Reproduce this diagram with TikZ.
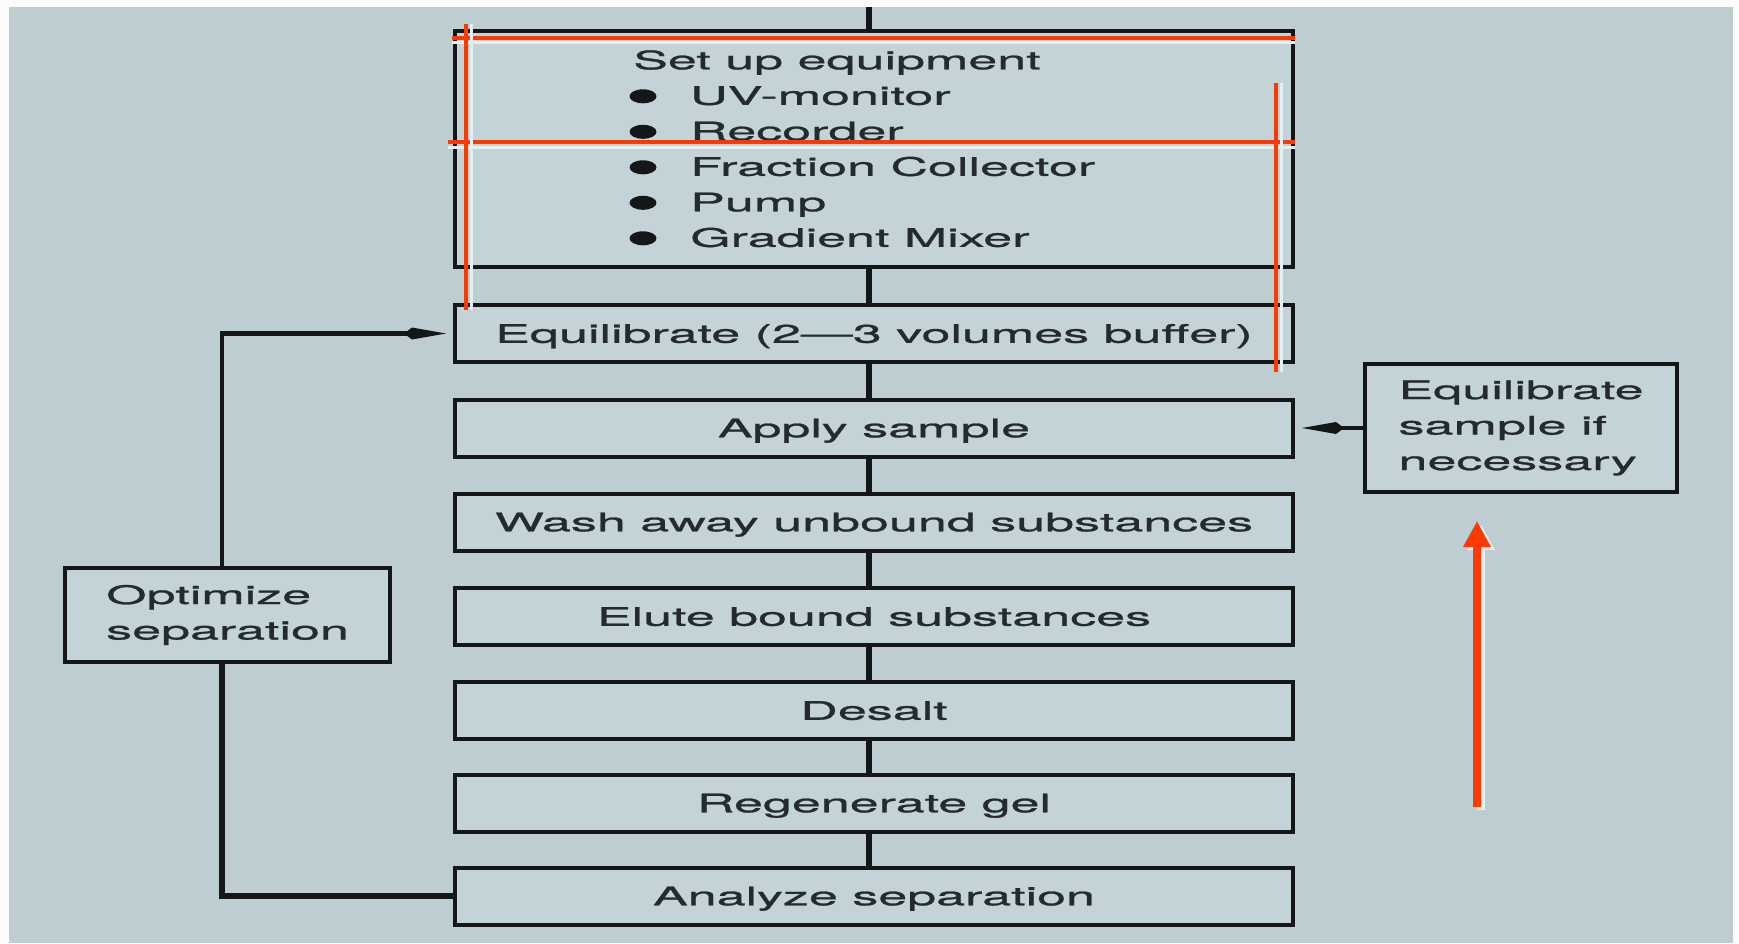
\documentclass[tikz,border=0pt]{standalone}
\usepackage{fontspec}
\setmainfont{TeX Gyre Heros}[FakeStretch=2.04,FakeBold=1.0]
\usetikzlibrary{arrows.meta}
\definecolor{bgcol}{RGB}{189,205,210}
\definecolor{boxfill}{RGB}{196,211,216}
\definecolor{linecol}{RGB}{20,22,24}
\definecolor{txtcol}{RGB}{36,42,46}
\definecolor{annred}{RGB}{255,58,0}
\definecolor{annwhite}{RGB}{226,240,245}
\newcommand{\bodyfont}{\fontsize{25.5pt}{35.5pt}\selectfont}
\tikzset{
  box/.style={draw=linecol, line width=4pt, fill=boxfill, minimum width=838pt,
    minimum height=57pt, inner sep=0pt, text height=18.5pt, text depth=0pt,
    font=\bodyfont, text=txtcol},
  sidebox/.style={draw=linecol, line width=4pt, fill=boxfill, inner sep=0pt,
    align=left, font=\bodyfont, text=txtcol},
  lbl/.style={inner sep=0pt, font=\bodyfont, text=txtcol, anchor=base west},
  conn/.style={draw=linecol, line width=6.5pt},
  loopline/.style={draw=linecol, line width=6pt},
  kitetip/.style={-{Kite[length=42pt,width=12pt,inset=8pt]}},
  annline/.style={draw=annred, line width=4pt},
  annshadow/.style={draw=annwhite, line width=3pt},
}
\begin{document}
\begin{tikzpicture}[x=1pt,y=-1pt]
\useasboundingbox (0,0) rectangle (1739,943);
\fill[white!95!bgcol] (0,0) rectangle (1739,943);
\fill[bgcol] (9,7) rectangle (1733,943);

% main column
\node[box, minimum height=236pt] (setup) at (874,149) {};
\node[box] (equil) at (874,333.5) {Equilibrate (2—3 volumes buffer)};
\node[box] (apply) at (874,428) {Apply sample};
\node[box] (wash) at (874,522) {Wash away unbound substances};
\node[box] (elute) at (874,616.5) {Elute bound substances};
\node[box] (desalt) at (874,710.5) {Desalt};
\node[box] (regen) at (874,803) {Regenerate gel};
\node[box] (analyze) at (874,896) {Analyze separation};

% set-up box contents
\node[lbl] (setuptitle) at (633,69.3) {Set up equipment};
\node[lbl] (uv) at (690,104.8) {UV-monitor};
\node[lbl] (rec) at (690,140.3) {Recorder};
\node[lbl] (frac) at (690,175.8) {Fraction Collector};
\node[lbl] (pump) at (690,211.3) {Pump};
\node[lbl] (grad) at (690,246.8) {Gradient Mixer};
\foreach \yy in {104.8,140.3,175.8,211.3,246.8}
  \fill[linecol] (643,\yy-8.5) ellipse [x radius=13.5pt, y radius=7pt];

% side boxes
\node[sidebox, minimum width=325pt, minimum height=94pt] (optimize) at (227.5,615)
  {Optimize\\separation};
\node[sidebox, minimum width=312pt, minimum height=128pt] (eqs) at (1521,428)
  {Equilibrate\\sample if\\necessary};

% spine connectors
\coordinate (spine) at (869,0);
\coordinate (topend) at (869,7);
\draw[conn] (topend) -- (setup.north -| spine);
\draw[conn] (setup.south -| spine) -- (equil.north -| spine);
\draw[conn] (equil.south -| spine) -- (apply.north -| spine);
\draw[conn] (apply.south -| spine) -- (wash.north -| spine);
\draw[conn] (wash.south -| spine) -- (elute.north -| spine);
\draw[conn] (elute.south -| spine) -- (desalt.north -| spine);
\draw[conn] (desalt.south -| spine) -- (regen.north -| spine);
\draw[conn] (regen.south -| spine) -- (analyze.north -| spine);

% feedback loop
\coordinate (loopx) at (222,0);
\draw[loopline] (analyze.west) -- (analyze.west -| loopx) -- (optimize.south -| loopx);
\draw[loopline, line width=4.5pt, kitetip, shorten >=7pt] (optimize.north -| loopx) |- (equil.west);

% sample equilibration arrow
\draw[draw=linecol, line width=3.5pt, kitetip, shorten >=7pt] (eqs.west) -- (eqs.west -| apply.east);

% red annotations
\draw[annshadow] (452,42.5) -- (1295,42.5);
\draw[annline] (452,37.5) -- (1295,37.5);
\draw[annshadow] (448,147) -- (1295,147);
\draw[annline] (448,142) -- (1295,142);
\draw[annshadow] (471,24) -- (471,310);
\draw[annline] (466,24) -- (466,310);
\draw[annshadow] (1281,83) -- (1281,372);
\draw[annline] (1276,83) -- (1276,372);
\draw[draw=annwhite, fill=annwhite, line width=8pt, -{Triangle[length=26pt,width=26pt]}] (1481,810) -- (1481,524);
\draw[draw=annred, fill=annred, line width=8pt, -{Triangle[length=26pt,width=26pt]}] (1477,807) -- (1477,521);
\end{tikzpicture}
\end{document}
